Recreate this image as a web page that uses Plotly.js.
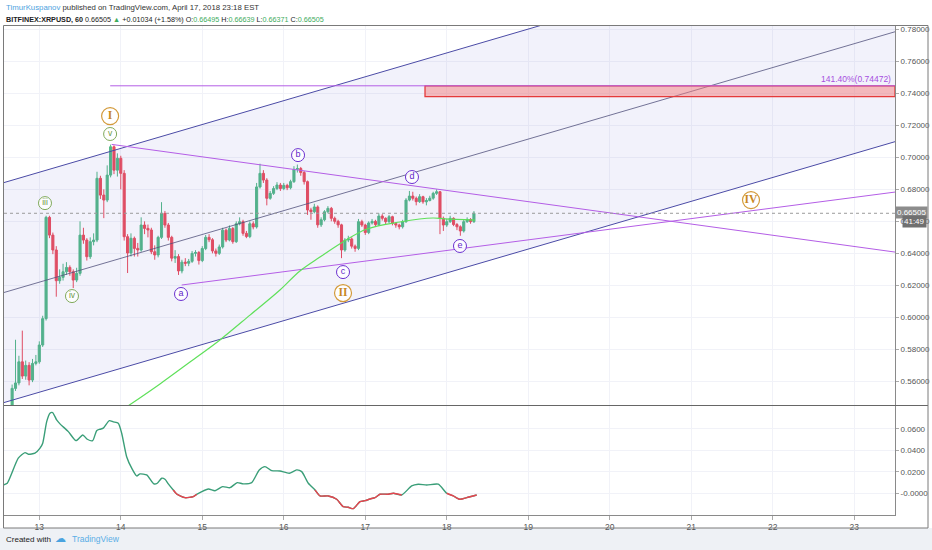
<!DOCTYPE html>
<html><head><meta charset="utf-8">
<script src="https://cdn.plot.ly/plotly-3.0.1.min.js"></script>
<style>html,body{margin:0;padding:0;background:#fff;}#chart{width:932px;height:550px;}</style>
</head><body><div id="chart"></div>
<script>
// ---------- DATA (XRPUSD hourly, x in "day of April 2018") ----------
const candleStartDay = 12 + 16/24;   // first candle: Apr 12, 16:00
const candleStepDay = 1/24;          // hourly candles
const candleOpen = [
 0.5450,0.5556,0.5590,0.5722,0.5633,0.5700,0.5608,0.5712,0.5722,0.5827,
 0.5992,0.6625,0.6514,0.6421,0.6229,0.6250,0.6285,0.6312,0.6285,0.6233,
 0.6275,0.6514,0.6483,0.6379,0.6473,0.6483,0.6869,0.6764,0.6733,0.6889,
 0.7066,0.6920,0.6994,0.6900,0.6504,0.6402,0.6494,0.6431,0.6421,0.6577,
 0.6556,0.6546,0.6410,0.6390,0.6500,0.6650,0.6577,0.6500,0.6370,0.6380,
 0.6290,0.6345,0.6338,0.6350,0.6400,0.6405,0.6355,0.6430,0.6500,0.6485,
 0.6415,0.6400,0.6440,0.6545,0.6483,0.6555,0.6473,0.6585,0.6598,0.6525,
 0.6505,0.6585,0.6565,0.6815,0.6900,0.6858,0.6744,0.6775,0.6805,0.6827,
 0.6805,0.6825,0.6810,0.6848,0.6925,0.6930,0.6905,0.6848,0.6671,0.6660,
 0.6690,0.6578,0.6610,0.6660,0.6681,0.6619,0.6600,0.6578,0.6421,0.6483,
 0.6490,0.6445,0.6431,0.6598,0.6577,0.6530,0.6590,0.6600,0.6580,0.6633,
 0.6619,0.6598,0.6629,0.6587,0.6577,0.6566,0.6598,0.6733,0.6758,0.6744,
 0.6723,0.6754,0.6722,0.6730,0.6745,0.6775,0.6785,0.6619,0.6577,0.6598,
 0.6619,0.6580,0.6566,0.6540,0.6598,0.6612,0.6598];
const candleHigh = [
 0.5580,0.5860,0.5760,0.5917,0.5730,0.5720,0.5740,0.5765,0.5850,0.6010,
 0.6635,0.6635,0.6530,0.6445,0.6300,0.6335,0.6345,0.6325,0.6300,0.6310,
 0.6600,0.6560,0.6495,0.6500,0.6525,0.6910,0.6885,0.6800,0.6950,0.7080,
 0.7075,0.7025,0.7010,0.6920,0.6520,0.6525,0.6505,0.6465,0.6625,0.6600,
 0.6580,0.6560,0.6450,0.6510,0.6720,0.6665,0.6590,0.6510,0.6420,0.6395,
 0.6360,0.6370,0.6365,0.6415,0.6420,0.6415,0.6445,0.6515,0.6520,0.6495,
 0.6430,0.6455,0.6560,0.6555,0.6575,0.6565,0.6600,0.6625,0.6610,0.6540,
 0.6600,0.6600,0.6840,0.6960,0.6920,0.6870,0.6790,0.6820,0.6845,0.6840,
 0.6840,0.6835,0.6860,0.6945,0.6955,0.6940,0.6915,0.6855,0.6685,0.6710,
 0.6700,0.6625,0.6670,0.6695,0.6690,0.6630,0.6610,0.6585,0.6495,0.6510,
 0.6500,0.6455,0.6615,0.6610,0.6585,0.6600,0.6615,0.6610,0.6650,0.6645,
 0.6625,0.6640,0.6635,0.6595,0.6585,0.6610,0.6745,0.6790,0.6785,0.6755,
 0.6770,0.6760,0.6745,0.6760,0.6785,0.6800,0.6790,0.6630,0.6615,0.6635,
 0.6625,0.6590,0.6575,0.6610,0.6625,0.6620,0.66639];
const candleLow = [
 0.5440,0.5540,0.5575,0.5615,0.5610,0.5575,0.5595,0.5700,0.5710,0.5815,
 0.5980,0.6495,0.6395,0.6129,0.6210,0.6230,0.6265,0.6260,0.6183,0.6220,
 0.6260,0.6460,0.6355,0.6365,0.6450,0.6470,0.6740,0.6620,0.6720,0.6875,
 0.6895,0.6880,0.6800,0.6480,0.6277,0.6380,0.6380,0.6380,0.6410,0.6520,
 0.6500,0.6395,0.6360,0.6375,0.6490,0.6560,0.6480,0.6350,0.6340,0.6265,
 0.6275,0.6320,0.6320,0.6340,0.6380,0.6330,0.6345,0.6420,0.6470,0.6400,
 0.6380,0.6390,0.6430,0.6470,0.6475,0.6460,0.6465,0.6575,0.6510,0.6495,
 0.6495,0.6550,0.6555,0.6805,0.6840,0.6700,0.6735,0.6765,0.6795,0.6790,
 0.6795,0.6795,0.6800,0.6840,0.6905,0.6885,0.6830,0.6640,0.6610,0.6650,
 0.6560,0.6565,0.6600,0.6650,0.6600,0.6585,0.6560,0.6370,0.6410,0.6470,
 0.6430,0.6410,0.6420,0.6565,0.6515,0.6520,0.6580,0.6565,0.6570,0.6605,
 0.6580,0.6590,0.6575,0.6560,0.6550,0.6555,0.6590,0.6725,0.6730,0.6700,
 0.6715,0.6710,0.6700,0.6725,0.6735,0.6765,0.6520,0.6540,0.6565,0.6590,
 0.6570,0.6545,0.6510,0.6530,0.6590,0.6585,0.6590];
const candleClose = [
 0.5556,0.5590,0.5722,0.5633,0.5700,0.5608,0.5712,0.5722,0.5827,0.5992,
 0.6625,0.6514,0.6421,0.6229,0.6250,0.6285,0.6312,0.6285,0.6233,0.6275,
 0.6514,0.6483,0.6379,0.6473,0.6483,0.6869,0.6764,0.6733,0.6889,0.7066,
 0.6920,0.6994,0.6900,0.6504,0.6402,0.6494,0.6431,0.6421,0.6577,0.6556,
 0.6546,0.6410,0.6390,0.6500,0.6650,0.6577,0.6500,0.6370,0.6380,0.6290,
 0.6345,0.6338,0.6350,0.6400,0.6405,0.6355,0.6430,0.6500,0.6485,0.6415,
 0.6400,0.6440,0.6545,0.6483,0.6555,0.6473,0.6585,0.6598,0.6525,0.6505,
 0.6585,0.6565,0.6815,0.6900,0.6858,0.6744,0.6775,0.6805,0.6827,0.6805,
 0.6825,0.6810,0.6848,0.6925,0.6930,0.6905,0.6848,0.6671,0.6660,0.6690,
 0.6578,0.6610,0.6660,0.6681,0.6619,0.6600,0.6578,0.6421,0.6483,0.6490,
 0.6445,0.6431,0.6598,0.6577,0.6530,0.6590,0.6600,0.6580,0.6633,0.6619,
 0.6598,0.6629,0.6587,0.6577,0.6566,0.6598,0.6733,0.6758,0.6744,0.6723,
 0.6754,0.6722,0.6730,0.6745,0.6775,0.6785,0.6619,0.6577,0.6598,0.6619,
 0.6580,0.6566,0.6540,0.6598,0.6612,0.6598,0.66505];

// moving average
const maDays   = [14.088,14.481,14.849,15.217,15.585,15.953,16.198,16.444,16.726,17.020,17.425,17.830,17.978,18.346];
const maPrices = [0.5446,0.5584,0.5721,0.5859,0.6014,0.6171,0.6290,0.6377,0.6471,0.6552,0.6596,0.6621,0.6615,0.6608];

// parallel channel (anchors at chart's left and right edges)
const channelDays   = [12.5583, 23.5];
const channelUpper  = [0.6841, 0.8473];
const channelMiddle = [0.6154, 0.7785];
const channelLower  = [0.5466, 0.7098];

// triangle trendlines
const triUpperDays = [13.888, 23.5];
const triUpperPrices = [0.7081, 0.6408];
const triLowerDays = [14.747, 23.5];
const triLowerPrices = [0.6202, 0.6783];

// 141.4% extension level and target zone
const extDay = 13.87, extLevel = 0.74472, extLabel = '141.40%(0.74472)';
const zoneDays = [17.733, 23.5];
const zonePrices = [0.7380, 0.74472];

// wave labels
const majorText = ['I','II','IV'];
const majorDays = [13.869,16.727,21.733];
const majorPrices = [0.7258,0.6152,0.6733];
const minorText = ['iii','iv','v'];
const minorDays = [13.070,13.401,13.869];
const minorPrices = [0.6714,0.6133,0.7146];
const corrText = ['a','b','c','d','e'];
const corrDays = [14.739,16.175,16.727,17.573,18.162];
const corrPrices = [0.6146,0.7014,0.6283,0.6877,0.6446];

// lower oscillator
const oscDays = [12.558,12.607,12.742,12.825,12.865,12.947,13.009,13.042,13.091,13.131,13.164,13.213,13.254,13.356,13.450,13.533,13.589,13.655,13.704,13.745,13.785,13.859,13.908,13.969,14.011,14.072,14.134,14.195,14.236,14.318,14.407,14.448,14.502,14.542,14.583,14.644,14.686,14.788,14.890,14.931,15.074,15.156,15.250,15.340,15.429,15.503,15.606,15.699,15.769,15.852,15.953,16.067,16.158,16.220,16.301,16.383,16.444,16.546,16.649,16.730,16.791,16.853,16.935,16.996,17.058,17.119,17.180,17.282,17.344,17.447,17.569,17.650,17.753,17.896,17.999,18.080,18.162,18.244,18.367];
const oscValues = [0.0077,0.0093,0.0326,0.0378,0.0363,0.0372,0.0419,0.0465,0.0666,0.0744,0.0750,0.0682,0.0645,0.0573,0.0489,0.0542,0.0502,0.0489,0.0582,0.0595,0.0605,0.0675,0.0663,0.0651,0.0558,0.0340,0.0233,0.0161,0.0180,0.0170,0.0087,0.0093,0.0140,0.0130,0.0087,0.0030,-0.0007,-0.0041,-0.0031,-0.0010,0.0040,0.0024,0.0062,0.0052,0.0099,0.0087,0.0099,0.0217,0.0248,0.0210,0.0207,0.0186,0.0217,0.0201,0.0093,0.0031,-0.0025,-0.0025,-0.0056,-0.0125,-0.0130,-0.0143,-0.0078,-0.0069,-0.0053,-0.0041,-0.0009,-0.0009,0.0000,-0.0016,0.0068,0.0084,0.0077,0.0084,0.0000,-0.0025,-0.0056,-0.0041,-0.0016];

const lastPrice = 0.66505;
const dayTicks = [13,14,15,16,17,18,19,20,21,22,23];

// ---------- BUILD ----------
const candleDays = candleClose.map((_, i) => candleStartDay + i * candleStepDay);
const FONT = 'Liberation Sans, Arial, sans-serif';
const GREEN = '#53b987', RED = '#eb4d5c';

// oscillator split into green/red segments
const redX = [], redY = [];
let lastRed = -2;
for (let k = 0; k < oscValues.length - 1; k++) {
  if ((oscValues[k] + oscValues[k+1]) / 2 < 0.0012) {
    if (lastRed !== k) { redX.push(null); redY.push(null); redX.push(oscDays[k]); redY.push(oscValues[k]); }
    redX.push(oscDays[k+1]); redY.push(oscValues[k+1]);
    lastRed = k + 1;
  }
}

const traces = [
  {x: channelDays, y: channelLower, mode:'lines', line:{color:'#4b4ba6', width:1}, hoverinfo:'skip'},
  {x: channelDays, y: channelUpper, mode:'lines', line:{color:'#4b4ba6', width:1}, fill:'tonexty', fillcolor:'rgba(95,95,210,0.08)', hoverinfo:'skip'},
  {x: channelDays, y: channelMiddle, mode:'lines', line:{color:'#52527c', width:0.8}, hoverinfo:'skip'},
  {x: triUpperDays, y: triUpperPrices, mode:'lines', line:{color:'#b45ee6', width:1}, hoverinfo:'skip'},
  {x: triLowerDays, y: triLowerPrices, mode:'lines', line:{color:'#b45ee6', width:1}, hoverinfo:'skip'},
  {type:'candlestick', x: candleDays, open: candleOpen, high: candleHigh, low: candleLow, close: candleClose,
   increasing:{line:{color:GREEN, width:1}, fillcolor:GREEN},
   decreasing:{line:{color:RED, width:1}, fillcolor:RED},
   whiskerwidth:0, hoverinfo:'skip'},
  {x: maDays, y: maPrices, mode:'lines', line:{color:'#5fe05a', width:1.2, shape:'spline'}, hoverinfo:'skip'},
  {x: minorDays, y: minorPrices, text: minorText, mode:'markers+text', textposition:'middle center',
   marker:{size:13, color:'rgba(255,255,255,0.85)', line:{color:'#7fa95a', width:1}},
   textfont:{family:FONT, size:8.5, color:'#6f9a45'}, cliponaxis:false, hoverinfo:'skip'},
  {x: corrDays, y: corrPrices, text: corrText, mode:'markers+text', textposition:'middle center',
   marker:{size:13, color:'rgba(255,255,255,0.85)', line:{color:'#6a2fd0', width:1}},
   textfont:{family:FONT, size:9, color:'#5f25c8'}, cliponaxis:false, hoverinfo:'skip'},
  {x: majorDays, y: majorPrices, text: majorText.map(t => '<b>' + t + '</b>'), mode:'markers+text', textposition:'middle center',
   marker:{size:17, color:'rgba(255,255,255,0.85)', line:{color:'#d39a3a', width:1.2}},
   textfont:{family:'Liberation Serif, DejaVu Serif, serif', size:11.5, color:'#c8871f'}, cliponaxis:false, hoverinfo:'skip'},
  {x: oscDays, y: oscValues, mode:'lines', line:{color:'#3a9e78', width:1.4, shape:'spline', smoothing:0.6}, yaxis:'y2', hoverinfo:'skip'},
  {x: redX, y: redY, mode:'lines', line:{color:'#e8434f', width:1.4, shape:'spline', smoothing:0.6}, yaxis:'y2', connectgaps:false, hoverinfo:'skip'}
];

const px = v => (v - 4) / 891;          // pixel x -> paper
const py = v => (515 - v) / 489;        // pixel y -> paper
const tickFont = {family:FONT, size:8, color:'#555'};

const layout = {
  width: 932, height: 550,
  margin: {l:4, r:37, t:26, b:35},
  paper_bgcolor:'#ffffff', plot_bgcolor:'#ffffff',
  showlegend:false, hovermode:false, boxgap:0.12,
  font:{family:FONT, size:9, color:'#555'},
  xaxis:{range:[12.567, 23.5], tickvals: dayTicks, ticktext: dayTicks.map(String), anchor:'y2',
    showgrid:true, gridcolor:'#f1f2f8', zeroline:false, showline:true, linecolor:'#8a8a8a',
    ticks:'outside', ticklen:4, tickcolor:'#aaa', tickfont:{family:FONT, size:8.5, color:'#555'},
    rangeslider:{visible:false}, fixedrange:true},
  yaxis:{domain:[0.2249, 1], range:[0.5452, 0.7821], side:'right', dtick:0.02, tick0:0, tickformat:'.5f',
    showgrid:true, gridcolor:'#f1f2f8', zeroline:false, showline:true, linecolor:'#8a8a8a',
    ticks:'outside', ticklen:3, tickcolor:'#aaa', tickfont:tickFont},
  yaxis2:{domain:[0, 0.2229], range:[-0.0202, 0.0811], side:'right', anchor:'x',
    tickvals:[0.06,0.04,0.02,0], ticktext:['0.0600','0.0400','0.0200','-0.0000'],
    showgrid:true, gridcolor:'#f1f2f8', zeroline:false, showline:true, linecolor:'#8a8a8a',
    ticks:'outside', ticklen:3, tickcolor:'#aaa', tickfont:tickFont},
  shapes:[
    {type:'rect', xref:'paper', yref:'paper', x0:px(-5), x1:px(940), y0:py(528), y1:py(556), fillcolor:'#eef1f5', line:{width:0}, layer:'below'},
    {type:'rect', xref:'x', yref:'y', x0:zoneDays[0], x1:zoneDays[1], y0:zonePrices[0], y1:zonePrices[1],
     fillcolor:'rgba(244,125,125,0.5)', line:{color:'#e53a3a', width:1.3}},
    {type:'line', xref:'x', yref:'y', x0:extDay, x1:23.5, y0:extLevel, y1:extLevel, line:{color:'#b45ee6', width:1}},
    {type:'line', xref:'paper', yref:'y', x0:0, x1:1, y0:lastPrice, y1:lastPrice, line:{color:'#9a9a9a', width:1, dash:'dot'}},
    {type:'line', xref:'paper', yref:'paper', x0:0, x1:px(928), y0:py(405.5), y1:py(405.5), line:{color:'#666', width:1}},
    {type:'rect', xref:'paper', yref:'paper', x0:px(3.5), x1:px(928), y0:py(528), y1:py(25.5), line:{color:'#7a7a7a', width:1}, fillcolor:'rgba(0,0,0,0)'}
  ],
  annotations:[
    {xref:'paper', yref:'paper', x:0, y:py(8), xanchor:'left', yanchor:'middle', showarrow:false,
     font:{family:FONT, size:7.8, color:'#333'},
     text:'<span style="color:#4ea3e0">TimurKuspanov</span> published on TradingView.com, April 17, 2018 23:18 EST'},
    {xref:'paper', yref:'paper', x:0, y:py(19), xanchor:'left', yanchor:'middle', showarrow:false,
     font:{family:FONT, size:7.2, color:'#222'},
     text:'<b>BITFINEX:XRPUSD, 60</b> 0.66505 <span style="color:#3cab5c">▲</span> +0.01034 (+1.58%) O:<span style="color:#3cab5c">0.66495</span> H:<span style="color:#3cab5c">0.66639</span> L:<span style="color:#3cab5c">0.66371</span> C:<span style="color:#3cab5c">0.66505</span>'},
    {xref:'x', yref:'y', x:23.48, y:extLevel, xanchor:'right', yanchor:'bottom', showarrow:false,
     font:{family:FONT, size:8.5, color:'#a64ee0'}, text: extLabel},
    {xref:'paper', yref:'y', x:1, y:lastPrice, xanchor:'left', yanchor:'middle', yshift:1, showarrow:false,
     bgcolor:'#8c8c8c', borderpad:1, font:{family:FONT, size:8, color:'#fff'}, text: lastPrice.toFixed(5)},
    {xref:'paper', yref:'y', x:px(902), y:0.6596, xanchor:'left', yanchor:'middle', showarrow:false,
     bgcolor:'#707070', borderpad:1, font:{family:FONT, size:8, color:'#fff'}, text:'41:49'},
    {xref:'paper', yref:'paper', x:0, y:py(539), xanchor:'left', yanchor:'middle', showarrow:false,
     font:{family:FONT, size:8, color:'#222'}, text:'Created with'},
    {xref:'paper', yref:'paper', x:px(53), y:py(538), xanchor:'left', yanchor:'middle', showarrow:false,
     font:{family:'DejaVu Sans', size:11, color:'#4aa3df'}, text:'☁'},
    {xref:'paper', yref:'paper', x:px(70), y:py(539), xanchor:'left', yanchor:'middle', showarrow:false,
     font:{family:FONT, size:8.5, color:'#5aaee6'}, text:'TradingView'}
  ]
};

Plotly.newPlot('chart', traces, layout, {displayModeBar:false, staticPlot:true});
</script>
</body></html>
